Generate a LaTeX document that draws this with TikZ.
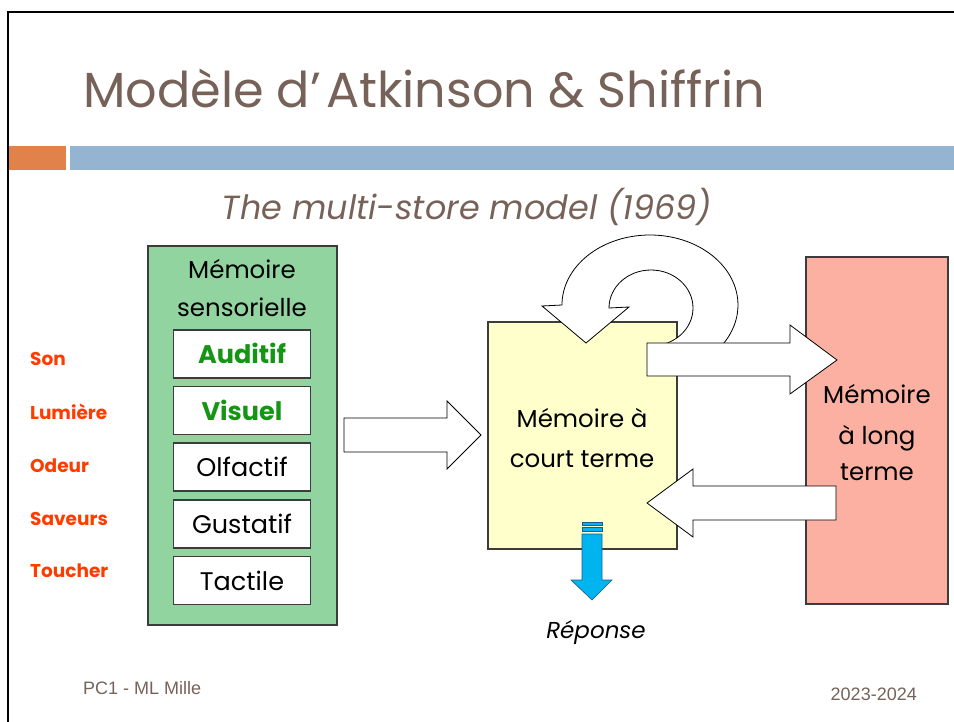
\documentclass[tikz,border=0pt]{standalone}
\usepackage{fontspec}
\setmainfont{Poppins}
\newfontfamily\footfont{Liberation Sans}
\definecolor{titlec}{RGB}{118,98,88}
\definecolor{orangec}{RGB}{224,130,74}
\definecolor{bluebar}{RGB}{148,180,210}
\definecolor{sensc}{RGB}{146,212,160}
\definecolor{stmc}{RGB}{255,255,204}
\definecolor{ltmc}{RGB}{252,176,162}
\definecolor{redlab}{RGB}{255,60,0}
\definecolor{greentxt}{RGB}{20,150,20}
\definecolor{respc}{RGB}{0,180,240}
\definecolor{respd}{RGB}{30,90,140}
\definecolor{boxline}{RGB}{60,60,60}
\tikzset{
  store/.style={draw=boxline, line width=1.2pt, inner sep=0pt},
  modbox/.style={draw=boxline, line width=1.2pt, fill=white, inner sep=0pt, minimum width=137, minimum height=48},
  boxtxt/.style={font=\fontsize{24.5}{28}\selectfont, anchor=base, inner sep=0pt},
  modtxt/.style={font=\fontsize{25.5}{28}\selectfont, anchor=base, inner sep=0pt},
  boldmod/.style={font=\fontsize{25.5}{28}\selectfont\bfseries, text=greentxt},
  senslab/.style={font=\fontsize{18.5}{20}\selectfont\bfseries, text=redlab, anchor=base west, inner sep=0pt},
  blk/.style={draw=black, line width=0.8pt, fill=white, line join=miter},
  resp/.style={fill=respc, draw=respd, line width=0.6pt},
  foot/.style={inner sep=0pt, text=titlec, font=\footfont\fontsize{18}{20}\selectfont},
}
\begin{document}
\begin{tikzpicture}[x=1pt,y=-1pt]
\useasboundingbox (0,0) rectangle (954,722);
% slide frame
\draw[line width=2pt] (8,722) -- (8,12) -- (954,12);
\fill[orangec] (9,146) rectangle (66,170);
\fill[bluebar] (70,146) rectangle (954,170);
\node[anchor=base west, inner sep=0pt, text=titlec, font=\fontsize{49.3}{58}\selectfont] (title) at (83,108) {Modèle d’\kern5pt Atkinson \& Shiffrin};
\node[anchor=base, inner sep=0pt, text=titlec, font=\fontsize{33.5}{36}\selectfont\itshape] (sub) at (467,220) {The multi-store model (1969)};
% sensory memory
\node[store, fill=sensc, minimum width=189, minimum height=379] (sens) at (242.5,435.5) {};
\node[boxtxt] (sens1) at (242,279) {Mémoire};
\node[boxtxt] (sens2) at (242,317) {sensorielle};
\node[modbox] (aud) at (242,354) {};
\node[modbox] (vis) at (242,410.5) {};
\node[modbox] (olf) at (242,467) {};
\node[modbox] (gus) at (242,524) {};
\node[modbox] (tac) at (242,580.5) {};
\node[modtxt, boldmod] at ([yshift=-9.5pt]aud.center) {Auditif};
\node[modtxt, boldmod] at ([yshift=-9.5pt]vis.center) {Visuel};
\node[modtxt] at ([yshift=-9.5pt]olf.center) {Olfactif};
\node[modtxt] at ([yshift=-9.5pt]gus.center) {Gustatif};
\node[modtxt] at ([yshift=-9.5pt]tac.center) {Tactile};
\node[senslab] (son) at (30,366) {Son};
\node[senslab] (lum) at (30,419) {Lumière};
\node[senslab] (ode) at (30,472) {Odeur};
\node[senslab] (sav) at (30,525) {Saveurs};
\node[senslab] (tou) at (30,577) {Toucher};
% short term memory
\node[store, fill=stmc, minimum width=189, minimum height=227] (stm) at (582.5,435.5) {};
\node[boxtxt] (stm1) at (582,427) {Mémoire à};
\node[boxtxt] (stm2) at (582,467) {court terme};
% long term memory
\node[store, fill=ltmc, minimum width=142, minimum height=347] (ltm) at (877,430.5) {};
\node[boxtxt] (ltm1) at (877,403) {Mémoire};
\node[boxtxt] (ltm2) at (877,444) {à long};
\node[boxtxt] (ltm3) at (877,480) {terme};
% rehearsal loop
\draw[blk] (712.2,354.5) arc[start angle=45, end angle=-180, x radius=88, y radius=70]
  -- (542,306) -- (586,343) -- (629,307) -- (609,308)
  arc[start angle=180, end angle=450, x radius=42, y radius=38] -- cycle;
% transfer arrows
\draw[blk] (647,343) -- (790,343) -- (790,325) -- (837,360) -- (790,394) -- (790,376) -- (647,376) -- cycle;
\draw[blk] (836,486) -- (693,486) -- (693,469) -- (647,503) -- (693,537) -- (693,520) -- (836,520) -- cycle;
\draw[blk] (344,418) -- (447,418) -- (447,401) -- (481,435) -- (447,469) -- (447,452) -- (344,452) -- cycle;
% response arrow
\draw[resp] (582,522) rectangle (602,525);
\draw[resp] (582,527) rectangle (602,531);
\draw[resp] (582,534) -- (602,534) -- (602,580) -- (612,580) -- (592,600) -- (571,580) -- (582,580) -- cycle;
\node[anchor=base, inner sep=0pt, font=\fontsize{23}{28}\selectfont\itshape] (rep) at (596,638) {Réponse};
% footer
\node[foot, anchor=base west] (f1) at (83,694) {PC1 - ML Mille};
\node[foot, anchor=base east] (f2) at (917,700) {2023-2024};
\end{tikzpicture}
\end{document}
